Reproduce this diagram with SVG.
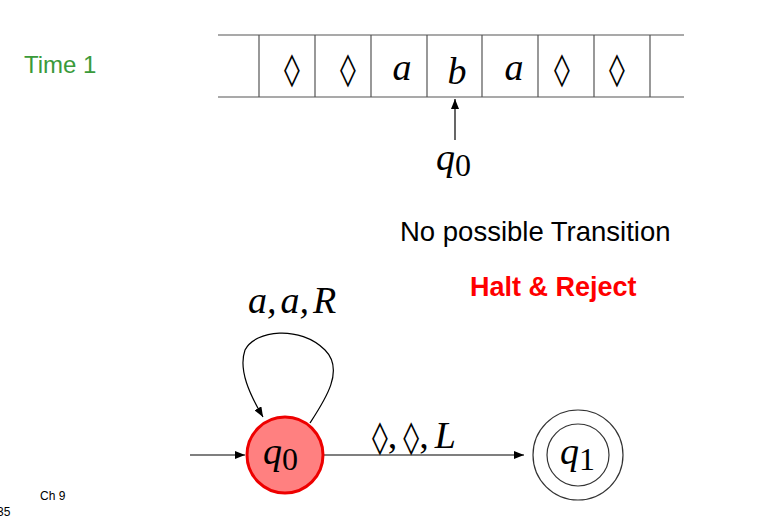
<svg xmlns="http://www.w3.org/2000/svg" width="778" height="519" viewBox="0 0 778 519">
<style>
.ln{stroke:#555;stroke-width:1.2;fill:none}
.e{stroke:#000;stroke-width:1.2;fill:none}
.m{font-family:"Liberation Serif",serif;font-size:38px;fill:#000}
.d{font-family:"DejaVu Serif",serif;font-size:32px}
.i{font-style:italic}
.sb{font-size:32px;font-style:normal}
.s{font-family:"Liberation Sans",sans-serif}
</style>
<defs><marker id="ar" markerWidth="10" markerHeight="8" refX="10" refY="4" orient="auto" markerUnits="userSpaceOnUse"><path d="M0,0L10,4L0,8z" fill="#000"/></marker></defs>
<rect width="778" height="519" fill="#fff"/>
<text x="24" y="73" class="s" font-size="24" fill="#3a9a3a">Time 1</text>
<g id="tape">
<line x1="218" y1="35" x2="684" y2="35" class="ln"/>
<line x1="218" y1="97" x2="684" y2="97" class="ln"/>
<path class="ln" d="M259,35V97M315,35V97M371,35V97M427,35V97M482,35V97M538,35V97M594,35V97M650,35V97"/>
<g class="m" text-anchor="middle">
<text x="292" y="80" class="d">◊</text><text x="348" y="80" class="d">◊</text>
<text x="402" y="80" class="i">a</text><text x="457" y="84" class="i">b</text><text x="514" y="80" class="i">a</text>
<text x="562" y="80" class="d">◊</text><text x="617" y="80" class="d">◊</text>
</g>
</g>
<g id="head">
<line x1="455" y1="140" x2="455" y2="99" class="e" marker-end="url(#ar)"/>
<text x="436" y="170" class="m"><tspan class="i">q</tspan><tspan class="sb" dy="6">0</tspan></text>
</g>
<text x="400" y="241" class="s" font-size="27.5" fill="#000">No possible Transition</text>
<text x="470" y="296" class="s" font-size="27" font-weight="bold" fill="#f00">Halt &amp; Reject</text>
<g id="connectors">
<line x1="190" y1="455" x2="245" y2="455" class="e" marker-end="url(#ar)"/>
<line x1="323" y1="455" x2="524" y2="455" class="e" marker-end="url(#ar)"/>
<path class="e" d="M310,423C325,400 345,370 325,350C300,325 255,330 245,350C238,370 250,395 263,417" marker-end="url(#ar)"/>
</g>
<text x="248" y="313" class="m i">a,<tspan dx="4">a</tspan>,<tspan dx="4">R</tspan></text>
<text x="372" y="448" class="m"><tspan class="d">◊</tspan>,<tspan class="d" dx="6">◊</tspan>,<tspan class="i" dx="6">L</tspan></text>
<g id="q0">
<circle cx="285" cy="455" r="38" fill="#ff8080" stroke="#e00" stroke-width="3"/>
<text x="263" y="464" class="m"><tspan class="i">q</tspan><tspan class="sb" dy="6">0</tspan></text>
</g>
<g id="q1">
<circle cx="578" cy="455" r="45" fill="#fff" stroke="#333" stroke-width="1.2"/>
<circle cx="578" cy="455" r="31" fill="none" stroke="#333" stroke-width="1.2"/>
<text x="560" y="464" class="m"><tspan class="i">q</tspan><tspan class="sb" dy="6">1</tspan></text>
</g>
<text x="40" y="500" class="s" font-size="12" fill="#000">Ch 9</text>
<text x="-3" y="516" class="s" font-size="12" fill="#000">35</text>
</svg>
